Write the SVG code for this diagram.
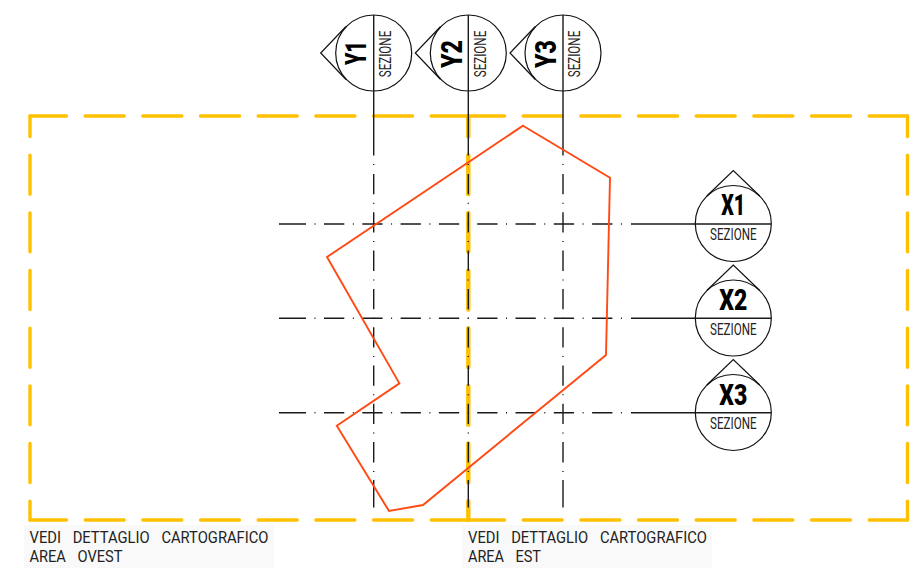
<svg xmlns="http://www.w3.org/2000/svg" width="922" height="585" viewBox="0 0 922 585">
<defs>
<style>
.h{fill:none;stroke:#FFC000;stroke-width:3.4;stroke-linecap:round;stroke-dasharray:39 18.67;stroke-dashoffset:2.5}
.v{fill:none;stroke:#FFC000;stroke-width:3.4;stroke-linecap:round;stroke-dasharray:39 18.67;stroke-dashoffset:18.5}
.m{stroke-width:4.4}
.ax{fill:none;stroke:#1a1a1a;stroke-width:1.4}
.dd{fill:none;stroke:#1a1a1a;stroke-width:1.4;stroke-dasharray:20.3 8.5 1 8.5}
.c{fill:none;stroke:#111;stroke-width:1.2}
.t{fill:none;stroke:#111;stroke-width:1.2}
.id{font-family:Roboto,"Liberation Sans",sans-serif;font-weight:900;font-size:29px;fill:#000;text-anchor:middle}
.sz{font-family:Roboto,"Liberation Sans",sans-serif;font-weight:400;font-size:16.5px;fill:#222;text-anchor:middle}
.lb{font-family:Roboto,"Liberation Sans",sans-serif;font-weight:400;font-size:16.8px;fill:#222;white-space:pre;word-spacing:2.5px}
</style>
</defs>
<rect width="922" height="585" fill="#fff"/>
<g id="labels-bg">
<rect x="24" y="525" width="250" height="43" fill="#F9F9F9"/>
<rect x="462" y="525" width="250" height="43" fill="#F9F9F9"/>
</g>
<g id="area-ovest">
<path class="h" d="M30 116H468"/><path class="h" d="M30 520H468"/>
<path class="v" d="M30 116V520"/><path class="v m" d="M468.3 116V520"/>
</g>
<g id="area-est">
<path class="h" d="M468 116H907.5"/><path class="h" d="M468 520H907.5"/>
<path class="v" d="M907.5 116V520"/>
</g>
<g id="connectors">
<path class="ax" d="M373.7 15V155.5M373.7 164V165M373.7 480V507.5"/>
<path class="dd" d="M373.7 174V472"/>
<path class="ax" d="M468.3 15V155.5M468.3 164V165M468.3 480V507.5"/>
<path class="dd" d="M468.3 174V472"/>
<path class="ax" d="M563 15V155.5M563 164V165M563 480V507.5"/>
<path class="dd" d="M563 174V472"/>
<path class="ax" d="M279 224H306M314.5 224H315.5M631 224H771"/>
<path class="dd" d="M324 224H623"/>
<path class="ax" d="M279 318.3H306M314.5 318.3H315.5M631 318.3H771"/>
<path class="dd" d="M324 318.3H623"/>
<path class="ax" d="M279 412.7H306M314.5 412.7H315.5M631 412.7H771"/>
<path class="dd" d="M324 412.7H623"/>
</g>
<g id="perimetro">
<polygon points="523,125.7 610,177.7 606,355 423,505 389,511 336.8,425.8 399.4,383.4 327,257" fill="none" stroke="#FF4A14" stroke-width="1.9"/>
</g>
<g id="Y1">
<circle class="c" cx="373.7" cy="53" r="38"/>
<path class="t" d="M346 26.5L320.7 53L346 79.5"/>
<text class="id" transform="translate(365.7 53) rotate(-90)" textLength="24" lengthAdjust="spacingAndGlyphs">Y1</text>
<text class="sz" transform="translate(391 54) rotate(-90)" textLength="46.5" lengthAdjust="spacingAndGlyphs">SEZIONE</text>
</g>
<g id="Y2">
<circle class="c" cx="468.3" cy="53" r="38"/>
<path class="t" d="M440.6 26.5L415.3 53L440.6 79.5"/>
<text class="id" transform="translate(461.5 54) rotate(-90)" textLength="28" lengthAdjust="spacingAndGlyphs">Y2</text>
<text class="sz" transform="translate(485.6 54) rotate(-90)" textLength="46.5" lengthAdjust="spacingAndGlyphs">SEZIONE</text>
</g>
<g id="Y3">
<circle class="c" cx="563" cy="53" r="38"/>
<path class="t" d="M535.3 26.5L510 53L535.3 79.5"/>
<text class="id" transform="translate(555.5 54) rotate(-90)" textLength="28" lengthAdjust="spacingAndGlyphs">Y3</text>
<text class="sz" transform="translate(580.3 54) rotate(-90)" textLength="46.5" lengthAdjust="spacingAndGlyphs">SEZIONE</text>
</g>
<g id="X1">
<circle class="c" cx="733.3" cy="223.5" r="38"/>
<path class="t" d="M706.8 196L733.3 170.5L759.8 196"/>
<text class="id" x="733.3" y="215" textLength="24" lengthAdjust="spacingAndGlyphs">X1</text>
<text class="sz" x="733.3" y="240" textLength="46.5" lengthAdjust="spacingAndGlyphs">SEZIONE</text>
</g>
<g id="X2">
<circle class="c" cx="733.3" cy="318" r="38"/>
<path class="t" d="M706.8 290.5L733.3 265L759.8 290.5"/>
<text class="id" x="733.3" y="310" textLength="28" lengthAdjust="spacingAndGlyphs">X2</text>
<text class="sz" x="733.3" y="334.6" textLength="46.5" lengthAdjust="spacingAndGlyphs">SEZIONE</text>
</g>
<g id="X3">
<circle class="c" cx="733.3" cy="412.5" r="38"/>
<path class="t" d="M706.8 385L733.3 359.5L759.8 385"/>
<text class="id" x="733.3" y="404.5" textLength="28" lengthAdjust="spacingAndGlyphs">X3</text>
<text class="sz" x="733.3" y="429" textLength="46.5" lengthAdjust="spacingAndGlyphs">SEZIONE</text>
</g>
<g id="label-ovest">
<text class="lb" x="29.5" y="543.3" textLength="239" lengthAdjust="spacingAndGlyphs">VEDI  DETTAGLIO  CARTOGRAFICO</text>
<text class="lb" x="29.5" y="562.3" textLength="93" lengthAdjust="spacingAndGlyphs">AREA  OVEST</text>
</g>
<g id="label-est">
<text class="lb" x="468" y="543.3" textLength="239" lengthAdjust="spacingAndGlyphs">VEDI  DETTAGLIO  CARTOGRAFICO</text>
<text class="lb" x="468" y="562.3" textLength="73" lengthAdjust="spacingAndGlyphs">AREA  EST</text>
</g>
</svg>
